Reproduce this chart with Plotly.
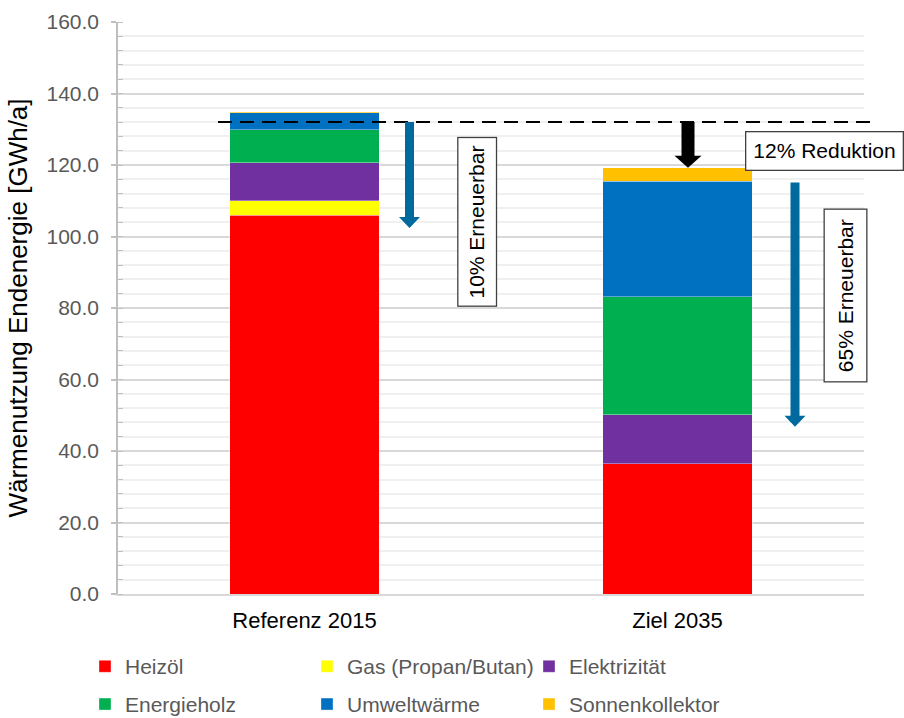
import plotly.graph_objects as go

# ---------------- data ----------------
categories = ["Referenz 2015", "Ziel 2035"]
series_names = ["Heizöl", "Gas (Propan/Butan)", "Elektrizität",
                "Energieholz", "Umweltwärme", "Sonnenkollektor"]
heizoel = [106.0, 36.4]
gas = [4.0, 0.0]
elektrizitaet = [10.6, 13.7]
energieholz = [9.2, 33.0]
umweltwaerme = [4.8, 32.4]
sonnenkollektor = [0.3, 3.7]
series_values = [heizoel, gas, elektrizitaet, energieholz, umweltwaerme, sonnenkollektor]
series_colors = ["#FF0000", "#FFFF00", "#7030A0", "#00B050", "#0070C0", "#FFC000"]
series_legend = ["legend", "legend", "legend", "legend2", "legend2", "legend2"]

reference_line = 132.0          # dashed reference level
arrow_ee_2015 = (132.0, 102.4)   # blue arrow 10% Erneuerbar (from, to)
arrow_ee_2035 = (115.1, 46.8)    # blue arrow 65% Erneuerbar (from, to)
ziel_total = sum(s[1] for s in series_values)

tick_vals = [0, 20, 40, 60, 80, 100, 120, 140, 160]

FONT = "Liberation Sans, Arial, sans-serif"

fig = go.Figure()
for name, vals, col, lg in zip(series_names, series_values, series_colors, series_legend):
    fig.add_trace(go.Bar(
        x=categories, y=vals, name=name, legend=lg,
        marker=dict(color=col, line=dict(color="rgba(255,255,255,0.45)", width=0.8)),
    ))

# ---------- annotations / shapes ----------
def px_x(px):
    # page pixel -> paper x
    return (px - 118) / 746.0

shapes = []
# dashed reference line
shapes.append(dict(type="line", xref="paper", yref="y",
                   x0=px_x(218), x1=px_x(876), y0=reference_line, y1=reference_line,
                   line=dict(color="black", width=2, dash="14px,8px"), layer="above"))

YPX = 160 / 572.0  # data units per pixel

def arrow_path(xc_px, y_from, y_to, shaft_half_px, head_half_px, head_len_px):
    xc = px_x(xc_px)
    s = shaft_half_px / 746.0
    h = head_half_px / 746.0
    yh = y_to + head_len_px * YPX
    return (f"M{xc - s},{y_from} L{xc + s},{y_from} L{xc + s},{yh} L{xc + h},{yh} "
            f"L{xc},{y_to} L{xc - h},{yh} L{xc - s},{yh} Z")

# black reduction arrow
shapes.append(dict(type="path", xref="paper", yref="y",
                   path=arrow_path(688, reference_line, ziel_total, 6.5, 13.5, 12),
                   fillcolor="black", line=dict(width=0), layer="above"))
# blue arrows
ARROW_BLUE = "#006A9E"
shapes.append(dict(type="path", xref="paper", yref="y",
                   path=arrow_path(409.5, arrow_ee_2015[0], arrow_ee_2015[1], 4.5, 10.5, 11),
                   fillcolor=ARROW_BLUE, line=dict(width=0), layer="above"))
shapes.append(dict(type="path", xref="paper", yref="y",
                   path=arrow_path(795, arrow_ee_2035[0], arrow_ee_2035[1], 4.5, 10.5, 11),
                   fillcolor=ARROW_BLUE, line=dict(width=0), layer="above"))

annotations = [
    dict(text="10% Erneuerbar", xref="paper", yref="y", x=px_x(477), y=104.1,
         xanchor="center", yanchor="middle",
         textangle=-90, showarrow=False, font=dict(family=FONT, size=21, color="black"),
         bgcolor="white", bordercolor="#404040", borderwidth=1.3, borderpad=7),
    dict(text="65% Erneuerbar", xref="paper", yref="y", x=px_x(846), y=83.5,
         xanchor="center", yanchor="middle",
         textangle=-90, showarrow=False, font=dict(family=FONT, size=21, color="black"),
         bgcolor="white", bordercolor="#404040", borderwidth=1.3, borderpad=9),
    dict(text="12% Reduktion", xref="paper", yref="y", x=px_x(745), y=123.9,
         xanchor="left", yanchor="middle", showarrow=False,
         font=dict(family=FONT, size=21, color="black"),
         bgcolor="white", bordercolor="#404040", borderwidth=1.3, borderpad=7),
]

LEG_X = px_x(85)
LEG_FONT = dict(family=FONT, size=21, color="#595959")
fig.update_layout(
    width=904, height=718,
    margin=dict(l=118, r=40, t=22, b=124, autoexpand=False),
    paper_bgcolor="white", plot_bgcolor="white",
    barmode="stack", bargap=0.6,
    font=dict(family=FONT, size=20, color="#595959"),
    shapes=shapes, annotations=annotations,
    showlegend=True,
    legend=dict(orientation="h", x=LEG_X, xanchor="left", y=-0.127, yanchor="middle",
                entrywidth=177, entrywidthmode="pixels", traceorder="normal",
                font=LEG_FONT, bgcolor="rgba(0,0,0,0)"),
    legend2=dict(orientation="h", x=LEG_X, xanchor="left", y=-0.193, yanchor="middle",
                 entrywidth=177, entrywidthmode="pixels", traceorder="normal",
                 font=LEG_FONT, bgcolor="rgba(0,0,0,0)"),
)

fig.update_yaxes(
    range=[0, 160], tickvals=tick_vals, tickformat=".1f",
    tickfont=dict(family=FONT, size=21, color="#595959"),
    showgrid=True, gridcolor="#D9D9D9", gridwidth=1.5,
    showline=True, linecolor="#BFBFBF", linewidth=1.5,
    ticks="outside", ticklen=5, tickcolor="#BFBFBF", tickwidth=1.5,
    ticklabelstandoff=8,
    minor=dict(dtick=4, showgrid=True, gridcolor="#F0F0F0", gridwidth=1.5,
               ticks="inside", ticklen=5, tickcolor="#BFBFBF", tickwidth=1),
    zeroline=False,
    title=dict(text="Wärmenutzung Endenergie [GWh/a]",
               font=dict(family=FONT, size=26, color="black"), standoff=11),
)
fig.update_xaxes(
    showline=True, linecolor="#D9D9D9", linewidth=2,
    tickfont=dict(family=FONT, size=22, color="black"),
    ticks="", ticklabelstandoff=6,
    range=[-0.5, 1.5],
)

fig.write_html("out.html")
